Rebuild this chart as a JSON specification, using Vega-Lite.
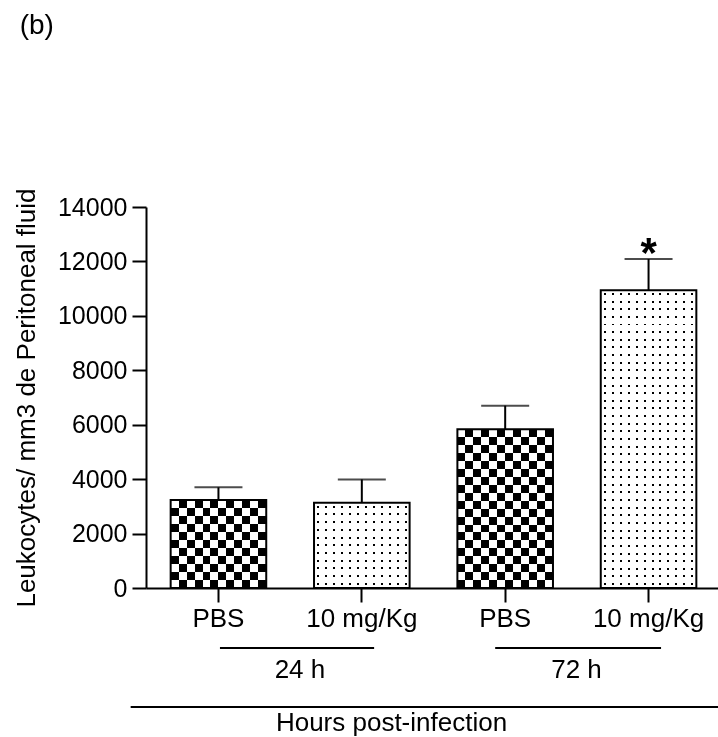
{
  "$schema": "https://vega.github.io/schema/vega-lite/v6.json",
  "width": 575,
  "height": 381,
  "autosize": {"type": "none"},
  "padding": {"left": 146, "top": 207, "right": 0, "bottom": 149},
  "background": "white",
  "config": {"font": "Liberation Sans", "view": {"stroke": null}},
  "datasets": {
    "bars": [
      {"bar": "PBS|24", "mean": 3230, "upper": 3700, "pattern": "check", "sig": ""},
      {"bar": "MG|24", "mean": 3130, "upper": 3990, "pattern": "dot", "sig": ""},
      {"bar": "PBS|72", "mean": 5830, "upper": 6700, "pattern": "check", "sig": ""},
      {"bar": "MG|72", "mean": 10940, "upper": 12090, "pattern": "dot", "sig": "*"}
    ],
    "groups": [
      {"group": "24 h", "from": "PBS|24", "to": "MG|24"},
      {"group": "72 h", "from": "PBS|72", "to": "MG|72"}
    ],
    "axisTitle": [{"label": "Hours post-infection", "panel": "(b)", "first": "PBS|24", "last": "MG|72"}]
  },
  "data": {"name": "bars"},
  "layer": [
    {
      "transform": [{"filter": "datum.pattern=='check'"}],
      "mark": {"type": "bar", "strokeWidth": 0, "fill": {"gradient": "linear", "x1": 0, "y1": 0, "x2": 1, "y2": 0, "stops": [
        {"offset": 0, "color": "black"}, {"offset": 0.0833, "color": "black"}, {"offset": 0.0833, "color": "white"}, {"offset": 0.1667, "color": "white"},
        {"offset": 0.1667, "color": "black"}, {"offset": 0.25, "color": "black"}, {"offset": 0.25, "color": "white"}, {"offset": 0.3333, "color": "white"},
        {"offset": 0.3333, "color": "black"}, {"offset": 0.4167, "color": "black"}, {"offset": 0.4167, "color": "white"}, {"offset": 0.5, "color": "white"},
        {"offset": 0.5, "color": "black"}, {"offset": 0.5833, "color": "black"}, {"offset": 0.5833, "color": "white"}, {"offset": 0.6667, "color": "white"},
        {"offset": 0.6667, "color": "black"}, {"offset": 0.75, "color": "black"}, {"offset": 0.75, "color": "white"}, {"offset": 0.8333, "color": "white"},
        {"offset": 0.8333, "color": "black"}, {"offset": 0.9167, "color": "black"}, {"offset": 0.9167, "color": "white"}, {"offset": 1, "color": "white"}]}},
      "encoding": {
        "x": {"field": "bar", "type": "nominal", "title": null,
          "scale": {"domain": ["PBS|24", "MG|24", "PBS|72", "MG|72"], "paddingInner": 0.3333, "paddingOuter": 0.172},
          "axis": {"labelExpr": "indexof(datum.value,'PBS')==0 ? 'PBS' : '10 mg/Kg'", "labelAngle": 0, "labelFontSize": 26, "labelColor": "black", "labelPadding": 3, "tickSize": 14, "tickWidth": 2, "tickColor": "black", "domainColor": "black", "domainWidth": 2, "grid": false, "labelOverlap": false}},
        "y": {"field": "mean", "type": "quantitative", "title": "Leukocytes/ mm3 de Peritoneal fluid",
          "scale": {"domain": [0, 14000], "nice": false, "zero": false},
          "axis": {"values": [0, 2000, 4000, 6000, 8000, 10000, 12000, 14000], "format": "d", "labelFontSize": 25, "labelColor": "black", "labelPadding": 5, "tickSize": 14, "tickWidth": 2, "tickColor": "black", "domainColor": "black", "domainWidth": 2, "titleFontSize": 26, "titleFontWeight": "normal", "titleColor": "black", "titlePadding": 18, "grid": false}}
      }
    },
    {
      "transform": [{"filter": "datum.bar=='PBS|24'"}],
      "mark": {"type": "bar", "strokeWidth": 0, "blend": "difference", "fill": {"gradient": "linear", "x1": 0, "y1": 0, "x2": 0, "y2": 1, "stops": [
        {"offset": 0, "color": "white"}, {"offset": 0.0909, "color": "white"}, {"offset": 0.0909, "color": "rgba(255,255,255,0)"}, {"offset": 0.1818, "color": "rgba(255,255,255,0)"},
        {"offset": 0.1818, "color": "white"}, {"offset": 0.2727, "color": "white"}, {"offset": 0.2727, "color": "rgba(255,255,255,0)"}, {"offset": 0.3636, "color": "rgba(255,255,255,0)"},
        {"offset": 0.3636, "color": "white"}, {"offset": 0.4545, "color": "white"}, {"offset": 0.4545, "color": "rgba(255,255,255,0)"}, {"offset": 0.5455, "color": "rgba(255,255,255,0)"},
        {"offset": 0.5455, "color": "white"}, {"offset": 0.6364, "color": "white"}, {"offset": 0.6364, "color": "rgba(255,255,255,0)"}, {"offset": 0.7273, "color": "rgba(255,255,255,0)"},
        {"offset": 0.7273, "color": "white"}, {"offset": 0.8182, "color": "white"}, {"offset": 0.8182, "color": "rgba(255,255,255,0)"}, {"offset": 0.9091, "color": "rgba(255,255,255,0)"},
        {"offset": 0.9091, "color": "white"}, {"offset": 1, "color": "white"}]}},
      "encoding": {
        "x": {"field": "bar", "type": "nominal", "title": null},
        "y": {"field": "mean", "type": "quantitative", "title": "Leukocytes/ mm3 de Peritoneal fluid"}
      }
    },
    {
      "transform": [{"filter": "datum.bar=='PBS|72'"}],
      "mark": {"type": "bar", "strokeWidth": 0, "blend": "difference", "fill": {"gradient": "linear", "x1": 0, "y1": 0, "x2": 0, "y2": 1, "stops": [
        {"offset": 0, "color": "white"}, {"offset": 0.05, "color": "white"}, {"offset": 0.05, "color": "rgba(255,255,255,0)"}, {"offset": 0.1, "color": "rgba(255,255,255,0)"},
        {"offset": 0.1, "color": "white"}, {"offset": 0.15, "color": "white"}, {"offset": 0.15, "color": "rgba(255,255,255,0)"}, {"offset": 0.2, "color": "rgba(255,255,255,0)"},
        {"offset": 0.2, "color": "white"}, {"offset": 0.25, "color": "white"}, {"offset": 0.25, "color": "rgba(255,255,255,0)"}, {"offset": 0.3, "color": "rgba(255,255,255,0)"},
        {"offset": 0.3, "color": "white"}, {"offset": 0.35, "color": "white"}, {"offset": 0.35, "color": "rgba(255,255,255,0)"}, {"offset": 0.4, "color": "rgba(255,255,255,0)"},
        {"offset": 0.4, "color": "white"}, {"offset": 0.45, "color": "white"}, {"offset": 0.45, "color": "rgba(255,255,255,0)"}, {"offset": 0.5, "color": "rgba(255,255,255,0)"},
        {"offset": 0.5, "color": "white"}, {"offset": 0.55, "color": "white"}, {"offset": 0.55, "color": "rgba(255,255,255,0)"}, {"offset": 0.6, "color": "rgba(255,255,255,0)"},
        {"offset": 0.6, "color": "white"}, {"offset": 0.65, "color": "white"}, {"offset": 0.65, "color": "rgba(255,255,255,0)"}, {"offset": 0.7, "color": "rgba(255,255,255,0)"},
        {"offset": 0.7, "color": "white"}, {"offset": 0.75, "color": "white"}, {"offset": 0.75, "color": "rgba(255,255,255,0)"}, {"offset": 0.8, "color": "rgba(255,255,255,0)"},
        {"offset": 0.8, "color": "white"}, {"offset": 0.85, "color": "white"}, {"offset": 0.85, "color": "rgba(255,255,255,0)"}, {"offset": 0.9, "color": "rgba(255,255,255,0)"},
        {"offset": 0.9, "color": "white"}, {"offset": 0.95, "color": "white"}, {"offset": 0.95, "color": "rgba(255,255,255,0)"}, {"offset": 1, "color": "rgba(255,255,255,0)"}]}},
      "encoding": {
        "x": {"field": "bar", "type": "nominal", "title": null},
        "y": {"field": "mean", "type": "quantitative", "title": "Leukocytes/ mm3 de Peritoneal fluid"}
      }
    },
    {
      "transform": [{"filter": "datum.pattern=='dot'"}],
      "mark": {"type": "bar", "strokeWidth": 0, "fill": {"gradient": "linear", "x1": 0, "y1": 0, "x2": 1, "y2": 0, "stops": [
        {"offset": 0, "color": "white"},
        {"offset": 0.031, "color": "white"}, {"offset": 0.031, "color": "black"}, {"offset": 0.052, "color": "black"}, {"offset": 0.052, "color": "white"},
        {"offset": 0.1143, "color": "white"}, {"offset": 0.1143, "color": "black"}, {"offset": 0.1353, "color": "black"}, {"offset": 0.1353, "color": "white"},
        {"offset": 0.1977, "color": "white"}, {"offset": 0.1977, "color": "black"}, {"offset": 0.2187, "color": "black"}, {"offset": 0.2187, "color": "white"},
        {"offset": 0.281, "color": "white"}, {"offset": 0.281, "color": "black"}, {"offset": 0.302, "color": "black"}, {"offset": 0.302, "color": "white"},
        {"offset": 0.3643, "color": "white"}, {"offset": 0.3643, "color": "black"}, {"offset": 0.3853, "color": "black"}, {"offset": 0.3853, "color": "white"},
        {"offset": 0.4477, "color": "white"}, {"offset": 0.4477, "color": "black"}, {"offset": 0.4687, "color": "black"}, {"offset": 0.4687, "color": "white"},
        {"offset": 0.531, "color": "white"}, {"offset": 0.531, "color": "black"}, {"offset": 0.552, "color": "black"}, {"offset": 0.552, "color": "white"},
        {"offset": 0.6143, "color": "white"}, {"offset": 0.6143, "color": "black"}, {"offset": 0.6353, "color": "black"}, {"offset": 0.6353, "color": "white"},
        {"offset": 0.6977, "color": "white"}, {"offset": 0.6977, "color": "black"}, {"offset": 0.7187, "color": "black"}, {"offset": 0.7187, "color": "white"},
        {"offset": 0.781, "color": "white"}, {"offset": 0.781, "color": "black"}, {"offset": 0.802, "color": "black"}, {"offset": 0.802, "color": "white"},
        {"offset": 0.8643, "color": "white"}, {"offset": 0.8643, "color": "black"}, {"offset": 0.8853, "color": "black"}, {"offset": 0.8853, "color": "white"},
        {"offset": 0.9477, "color": "white"}, {"offset": 0.9477, "color": "black"}, {"offset": 0.9687, "color": "black"}, {"offset": 0.9687, "color": "white"},
        {"offset": 1, "color": "white"}]}},
      "encoding": {
        "x": {"field": "bar", "type": "nominal", "title": null},
        "y": {"field": "mean", "type": "quantitative", "title": "Leukocytes/ mm3 de Peritoneal fluid"}
      }
    },
    {
      "transform": [{"filter": "datum.bar=='MG|24'"}],
      "mark": {"type": "bar", "strokeWidth": 0, "blend": "lighten", "fill": {"gradient": "linear", "x1": 0, "y1": 0, "x2": 0, "y2": 1, "stops": [
        {"offset": 0, "color": "white"},
        {"offset": 0.032, "color": "white"}, {"offset": 0.032, "color": "black"}, {"offset": 0.0553, "color": "black"}, {"offset": 0.0553, "color": "white"},
        {"offset": 0.1229, "color": "white"}, {"offset": 0.1229, "color": "black"}, {"offset": 0.1462, "color": "black"}, {"offset": 0.1462, "color": "white"},
        {"offset": 0.2138, "color": "white"}, {"offset": 0.2138, "color": "black"}, {"offset": 0.2371, "color": "black"}, {"offset": 0.2371, "color": "white"},
        {"offset": 0.3047, "color": "white"}, {"offset": 0.3047, "color": "black"}, {"offset": 0.328, "color": "black"}, {"offset": 0.328, "color": "white"},
        {"offset": 0.3956, "color": "white"}, {"offset": 0.3956, "color": "black"}, {"offset": 0.4189, "color": "black"}, {"offset": 0.4189, "color": "white"},
        {"offset": 0.4865, "color": "white"}, {"offset": 0.4865, "color": "black"}, {"offset": 0.5098, "color": "black"}, {"offset": 0.5098, "color": "white"},
        {"offset": 0.5774, "color": "white"}, {"offset": 0.5774, "color": "black"}, {"offset": 0.6007, "color": "black"}, {"offset": 0.6007, "color": "white"},
        {"offset": 0.6683, "color": "white"}, {"offset": 0.6683, "color": "black"}, {"offset": 0.6916, "color": "black"}, {"offset": 0.6916, "color": "white"},
        {"offset": 0.7592, "color": "white"}, {"offset": 0.7592, "color": "black"}, {"offset": 0.7825, "color": "black"}, {"offset": 0.7825, "color": "white"},
        {"offset": 0.8501, "color": "white"}, {"offset": 0.8501, "color": "black"}, {"offset": 0.8734, "color": "black"}, {"offset": 0.8734, "color": "white"},
        {"offset": 0.941, "color": "white"}, {"offset": 0.941, "color": "black"}, {"offset": 0.9643, "color": "black"}, {"offset": 0.9643, "color": "white"},
        {"offset": 1, "color": "white"}]}},
      "encoding": {
        "x": {"field": "bar", "type": "nominal", "title": null},
        "y": {"field": "mean", "type": "quantitative", "title": "Leukocytes/ mm3 de Peritoneal fluid"}
      }
    },
    {
      "transform": [{"filter": "datum.bar=='MG|72'"}],
      "mark": {"type": "bar", "strokeWidth": 0, "blend": "lighten", "fill": {"gradient": "linear", "x1": 0, "y1": 0, "x2": 0, "y2": 1, "stops": [
        {"offset": 0, "color": "white"},
        {"offset": 0.009, "color": "white"}, {"offset": 0.009, "color": "black"}, {"offset": 0.0157, "color": "black"}, {"offset": 0.0157, "color": "white"},
        {"offset": 0.0346, "color": "white"}, {"offset": 0.0346, "color": "black"}, {"offset": 0.0413, "color": "black"}, {"offset": 0.0413, "color": "white"},
        {"offset": 0.0603, "color": "white"}, {"offset": 0.0603, "color": "black"}, {"offset": 0.067, "color": "black"}, {"offset": 0.067, "color": "white"},
        {"offset": 0.0859, "color": "white"}, {"offset": 0.0859, "color": "black"}, {"offset": 0.0926, "color": "black"}, {"offset": 0.0926, "color": "white"},
        {"offset": 0.1116, "color": "white"}, {"offset": 0.1116, "color": "black"}, {"offset": 0.1183, "color": "black"}, {"offset": 0.1183, "color": "white"},
        {"offset": 0.1372, "color": "white"}, {"offset": 0.1372, "color": "black"}, {"offset": 0.1439, "color": "black"}, {"offset": 0.1439, "color": "white"},
        {"offset": 0.1628, "color": "white"}, {"offset": 0.1628, "color": "black"}, {"offset": 0.1695, "color": "black"}, {"offset": 0.1695, "color": "white"},
        {"offset": 0.1885, "color": "white"}, {"offset": 0.1885, "color": "black"}, {"offset": 0.1952, "color": "black"}, {"offset": 0.1952, "color": "white"},
        {"offset": 0.2141, "color": "white"}, {"offset": 0.2141, "color": "black"}, {"offset": 0.2208, "color": "black"}, {"offset": 0.2208, "color": "white"},
        {"offset": 0.2398, "color": "white"}, {"offset": 0.2398, "color": "black"}, {"offset": 0.2465, "color": "black"}, {"offset": 0.2465, "color": "white"},
        {"offset": 0.2654, "color": "white"}, {"offset": 0.2654, "color": "black"}, {"offset": 0.2721, "color": "black"}, {"offset": 0.2721, "color": "white"},
        {"offset": 0.2911, "color": "white"}, {"offset": 0.2911, "color": "black"}, {"offset": 0.2978, "color": "black"}, {"offset": 0.2978, "color": "white"},
        {"offset": 0.3167, "color": "white"}, {"offset": 0.3167, "color": "black"}, {"offset": 0.3234, "color": "black"}, {"offset": 0.3234, "color": "white"},
        {"offset": 0.3423, "color": "white"}, {"offset": 0.3423, "color": "black"}, {"offset": 0.349, "color": "black"}, {"offset": 0.349, "color": "white"},
        {"offset": 0.368, "color": "white"}, {"offset": 0.368, "color": "black"}, {"offset": 0.3747, "color": "black"}, {"offset": 0.3747, "color": "white"},
        {"offset": 0.3936, "color": "white"}, {"offset": 0.3936, "color": "black"}, {"offset": 0.4003, "color": "black"}, {"offset": 0.4003, "color": "white"},
        {"offset": 0.4193, "color": "white"}, {"offset": 0.4193, "color": "black"}, {"offset": 0.426, "color": "black"}, {"offset": 0.426, "color": "white"},
        {"offset": 0.4449, "color": "white"}, {"offset": 0.4449, "color": "black"}, {"offset": 0.4516, "color": "black"}, {"offset": 0.4516, "color": "white"},
        {"offset": 0.4705, "color": "white"}, {"offset": 0.4705, "color": "black"}, {"offset": 0.4772, "color": "black"}, {"offset": 0.4772, "color": "white"},
        {"offset": 0.4962, "color": "white"}, {"offset": 0.4962, "color": "black"}, {"offset": 0.5029, "color": "black"}, {"offset": 0.5029, "color": "white"},
        {"offset": 0.5218, "color": "white"}, {"offset": 0.5218, "color": "black"}, {"offset": 0.5285, "color": "black"}, {"offset": 0.5285, "color": "white"},
        {"offset": 0.5475, "color": "white"}, {"offset": 0.5475, "color": "black"}, {"offset": 0.5542, "color": "black"}, {"offset": 0.5542, "color": "white"},
        {"offset": 0.5731, "color": "white"}, {"offset": 0.5731, "color": "black"}, {"offset": 0.5798, "color": "black"}, {"offset": 0.5798, "color": "white"},
        {"offset": 0.5987, "color": "white"}, {"offset": 0.5987, "color": "black"}, {"offset": 0.6054, "color": "black"}, {"offset": 0.6054, "color": "white"},
        {"offset": 0.6244, "color": "white"}, {"offset": 0.6244, "color": "black"}, {"offset": 0.6311, "color": "black"}, {"offset": 0.6311, "color": "white"},
        {"offset": 0.65, "color": "white"}, {"offset": 0.65, "color": "black"}, {"offset": 0.6567, "color": "black"}, {"offset": 0.6567, "color": "white"},
        {"offset": 0.6757, "color": "white"}, {"offset": 0.6757, "color": "black"}, {"offset": 0.6824, "color": "black"}, {"offset": 0.6824, "color": "white"},
        {"offset": 0.7013, "color": "white"}, {"offset": 0.7013, "color": "black"}, {"offset": 0.708, "color": "black"}, {"offset": 0.708, "color": "white"},
        {"offset": 0.727, "color": "white"}, {"offset": 0.727, "color": "black"}, {"offset": 0.7337, "color": "black"}, {"offset": 0.7337, "color": "white"},
        {"offset": 0.7526, "color": "white"}, {"offset": 0.7526, "color": "black"}, {"offset": 0.7593, "color": "black"}, {"offset": 0.7593, "color": "white"},
        {"offset": 0.7782, "color": "white"}, {"offset": 0.7782, "color": "black"}, {"offset": 0.7849, "color": "black"}, {"offset": 0.7849, "color": "white"},
        {"offset": 0.8039, "color": "white"}, {"offset": 0.8039, "color": "black"}, {"offset": 0.8106, "color": "black"}, {"offset": 0.8106, "color": "white"},
        {"offset": 0.8295, "color": "white"}, {"offset": 0.8295, "color": "black"}, {"offset": 0.8362, "color": "black"}, {"offset": 0.8362, "color": "white"},
        {"offset": 0.8552, "color": "white"}, {"offset": 0.8552, "color": "black"}, {"offset": 0.8619, "color": "black"}, {"offset": 0.8619, "color": "white"},
        {"offset": 0.8808, "color": "white"}, {"offset": 0.8808, "color": "black"}, {"offset": 0.8875, "color": "black"}, {"offset": 0.8875, "color": "white"},
        {"offset": 0.9064, "color": "white"}, {"offset": 0.9064, "color": "black"}, {"offset": 0.9131, "color": "black"}, {"offset": 0.9131, "color": "white"},
        {"offset": 0.9321, "color": "white"}, {"offset": 0.9321, "color": "black"}, {"offset": 0.9388, "color": "black"}, {"offset": 0.9388, "color": "white"},
        {"offset": 0.9577, "color": "white"}, {"offset": 0.9577, "color": "black"}, {"offset": 0.9644, "color": "black"}, {"offset": 0.9644, "color": "white"},
        {"offset": 0.9834, "color": "white"}, {"offset": 0.9834, "color": "black"}, {"offset": 0.9901, "color": "black"}, {"offset": 0.9901, "color": "white"},
        {"offset": 1, "color": "white"}]}},
      "encoding": {
        "x": {"field": "bar", "type": "nominal", "title": null},
        "y": {"field": "mean", "type": "quantitative", "title": "Leukocytes/ mm3 de Peritoneal fluid"}
      }
    },
    {
      "mark": {"type": "bar", "fillOpacity": 0, "stroke": "black", "strokeWidth": 2},
      "encoding": {
        "x": {"field": "bar", "type": "nominal", "title": null},
        "y": {"field": "mean", "type": "quantitative", "title": "Leukocytes/ mm3 de Peritoneal fluid"}
      }
    },
    {
      "mark": {"type": "rule", "strokeWidth": 2, "color": "black"},
      "encoding": {
        "x": {"field": "bar", "type": "nominal", "title": null},
        "y": {"field": "mean", "type": "quantitative", "title": "Leukocytes/ mm3 de Peritoneal fluid"},
        "y2": {"field": "upper"}
      }
    },
    {
      "mark": {"type": "tick", "orient": "horizontal", "size": 48, "thickness": 2, "color": "black"},
      "encoding": {
        "x": {"field": "bar", "type": "nominal", "title": null},
        "y": {"field": "upper", "type": "quantitative", "title": "Leukocytes/ mm3 de Peritoneal fluid"}
      }
    },
    {
      "transform": [{"filter": "datum.sig!=''"}],
      "mark": {"type": "text", "fontSize": 42, "fontWeight": "bold", "color": "black", "baseline": "alphabetic", "dy": 8},
      "encoding": {
        "x": {"field": "bar", "type": "nominal", "title": null},
        "y": {"field": "upper", "type": "quantitative", "title": "Leukocytes/ mm3 de Peritoneal fluid"},
        "text": {"field": "sig"}
      }
    },
    {
      "data": {"name": "groups"},
      "transform": [{"filter": "datum.group=='24 h'"}],
      "mark": {"type": "rule", "strokeWidth": 2, "color": "black", "xOffset": 1.5, "x2Offset": 12.3},
      "encoding": {
        "x": {"field": "from", "type": "nominal", "bandPosition": 0.5, "title": null},
        "x2": {"field": "to", "bandPosition": 0.5},
        "y": {"datum": -2205, "type": "quantitative", "title": "Leukocytes/ mm3 de Peritoneal fluid"}
      }
    },
    {
      "data": {"name": "groups"},
      "transform": [{"filter": "datum.group=='72 h'"}],
      "mark": {"type": "rule", "strokeWidth": 2, "color": "black", "xOffset": -10, "x2Offset": 12.5},
      "encoding": {
        "x": {"field": "from", "type": "nominal", "bandPosition": 0.5, "title": null},
        "x2": {"field": "to", "bandPosition": 0.5},
        "y": {"datum": -2205, "type": "quantitative", "title": "Leukocytes/ mm3 de Peritoneal fluid"}
      }
    },
    {
      "data": {"name": "groups"},
      "transform": [{"filter": "datum.group=='24 h'"}],
      "mark": {"type": "text", "fontSize": 26, "color": "black", "baseline": "alphabetic", "dx": 81.5},
      "encoding": {
        "x": {"field": "from", "type": "nominal", "bandPosition": 0.5, "title": null},
        "y": {"datum": -3310, "type": "quantitative", "title": "Leukocytes/ mm3 de Peritoneal fluid"},
        "text": {"field": "group"}
      }
    },
    {
      "data": {"name": "groups"},
      "transform": [{"filter": "datum.group=='72 h'"}],
      "mark": {"type": "text", "fontSize": 26, "color": "black", "baseline": "alphabetic", "dx": 71.3},
      "encoding": {
        "x": {"field": "from", "type": "nominal", "bandPosition": 0.5, "title": null},
        "y": {"datum": -3310, "type": "quantitative", "title": "Leukocytes/ mm3 de Peritoneal fluid"},
        "text": {"field": "group"}
      }
    },
    {
      "data": {"name": "axisTitle"},
      "mark": {"type": "rule", "strokeWidth": 2, "color": "black", "xOffset": -40, "x2Offset": 25},
      "encoding": {
        "x": {"field": "first", "type": "nominal", "bandPosition": 0, "title": null},
        "x2": {"field": "last", "bandPosition": 1},
        "y": {"datum": -4373, "type": "quantitative", "title": "Leukocytes/ mm3 de Peritoneal fluid"}
      }
    },
    {
      "data": {"name": "axisTitle"},
      "mark": {"type": "text", "fontSize": 26, "color": "black", "baseline": "alphabetic", "dx": -42},
      "encoding": {
        "y": {"datum": -5255, "type": "quantitative", "title": "Leukocytes/ mm3 de Peritoneal fluid"},
        "text": {"field": "label"}
      }
    },
    {
      "data": {"name": "axisTitle"},
      "mark": {"type": "text", "fontSize": 28, "color": "black", "baseline": "alphabetic", "align": "left", "dx": -151},
      "encoding": {
        "x": {"field": "first", "type": "nominal", "bandPosition": 0, "title": null},
        "y": {"datum": 20360, "type": "quantitative", "title": "Leukocytes/ mm3 de Peritoneal fluid"},
        "text": {"field": "panel"}
      }
    }
  ]
}
